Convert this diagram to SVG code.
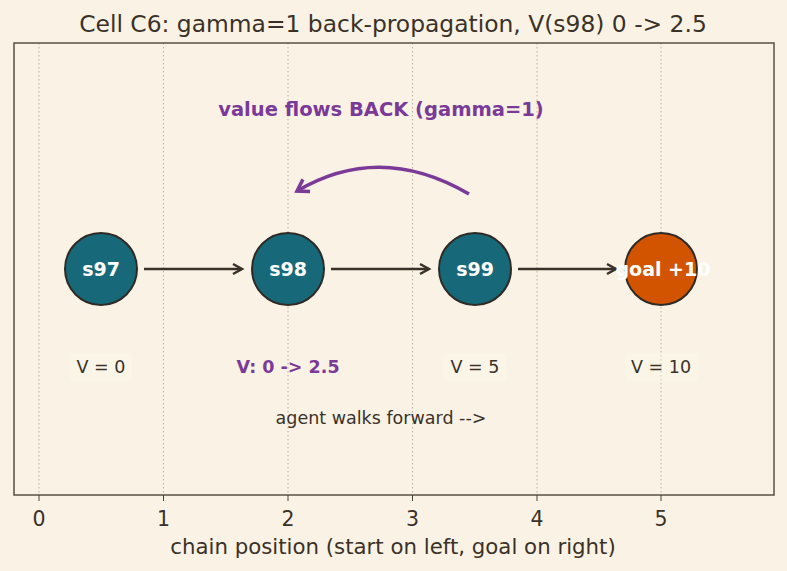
<svg xmlns="http://www.w3.org/2000/svg" width="787" height="571" viewBox="0 0 787 571">
<defs>
<style>
text{font-family:"DejaVu Sans","Liberation Sans",sans-serif;fill:#3a3128}
.grid{stroke:#b8b0a0;stroke-width:1;stroke-dasharray:1.5,2.5}
.tick{stroke:#4a4033;stroke-width:1}
.tl{font-size:20.5px;text-anchor:middle}
.xl{font-size:21.3px;text-anchor:middle}
.node{stroke:#2e2a26;stroke-width:2}
.nl{font-size:19px;font-weight:bold;fill:#ffffff;text-anchor:middle}
.vl{font-size:17.5px;text-anchor:middle}
.bx{fill:#fcf8ef;opacity:0.35}
.edge{stroke:#3a3128;stroke-width:2.5;fill:none;marker-end:url(#ah)}
</style>
<marker id="ah" markerWidth="16" markerHeight="16" refX="12" refY="8" orient="auto" markerUnits="userSpaceOnUse">
<path d="M3,3 L12,8 L3,13" fill="none" stroke="#3a3128" stroke-width="2.5"/>
</marker>
<marker id="ahp" markerWidth="20" markerHeight="20" refX="15" refY="10" orient="auto" markerUnits="userSpaceOnUse">
<path d="M4,3 L15,10 L4,17" fill="none" stroke="#7b3a98" stroke-width="3.5" stroke-linejoin="miter"/>
</marker>
</defs>
<rect x="0" y="0" width="787" height="571" fill="#faf3e5"/>
<text x="393" y="32" font-size="23.4" text-anchor="middle">Cell C6: gamma=1 back-propagation, V(s98) 0 -&gt; 2.5</text>
<g id="axes">
<line class="grid" x1="39" y1="43" x2="39" y2="495"/>
<line class="grid" x1="163.5" y1="43" x2="163.5" y2="495"/>
<line class="grid" x1="288" y1="43" x2="288" y2="495"/>
<line class="grid" x1="412.5" y1="43" x2="412.5" y2="495"/>
<line class="grid" x1="537" y1="43" x2="537" y2="495"/>
<line class="grid" x1="661" y1="43" x2="661" y2="495"/>
<rect x="14" y="43" width="760" height="452" fill="none" stroke="#5a4f42" stroke-width="1.5"/>
<line class="tick" x1="39" y1="495" x2="39" y2="501"/>
<line class="tick" x1="163.5" y1="495" x2="163.5" y2="501"/>
<line class="tick" x1="288" y1="495" x2="288" y2="501"/>
<line class="tick" x1="412.5" y1="495" x2="412.5" y2="501"/>
<line class="tick" x1="537" y1="495" x2="537" y2="501"/>
<line class="tick" x1="661" y1="495" x2="661" y2="501"/>
<text class="tl" x="39" y="526">0</text>
<text class="tl" x="163.5" y="526">1</text>
<text class="tl" x="288" y="526">2</text>
<text class="tl" x="412.5" y="526">3</text>
<text class="tl" x="537" y="526">4</text>
<text class="tl" x="661" y="526">5</text>
<text class="xl" x="393" y="554">chain position (start on left, goal on right)</text>
</g>
<g id="connectors">
<line class="edge" x1="144" y1="269" x2="242" y2="269"/>
<line class="edge" x1="331" y1="269" x2="429" y2="269"/>
<line class="edge" x1="518" y1="269" x2="616" y2="269"/>
<path d="M469,194 Q380,142 297,191" fill="none" stroke="#7b3a98" stroke-width="3.5" marker-end="url(#ahp)"/>
</g>
<g id="s97">
<circle class="node" cx="101" cy="269" r="36" fill="#17697a"/>
<text class="nl" x="101" y="276">s97</text>
</g>
<g id="s98">
<circle class="node" cx="288" cy="269" r="36" fill="#17697a"/>
<text class="nl" x="288" y="276">s98</text>
</g>
<g id="s99">
<circle class="node" cx="475" cy="269" r="36" fill="#17697a"/>
<text class="nl" x="475" y="276">s99</text>
</g>
<g id="goal">
<circle class="node" cx="661" cy="269" r="36" fill="#d35400"/>
<text class="nl" x="663" y="276">goal +10</text>
</g>
<g id="labels">
<text x="381" y="116" font-size="19.5" font-weight="bold" text-anchor="middle" style="fill:#7b3a98">value flows BACK (gamma=1)</text>
<rect class="bx" x="70" y="353" width="62" height="28" rx="4"/>
<text class="vl" x="101" y="373">V = 0</text>
<text class="vl" x="288" y="373" font-weight="bold" style="fill:#7b3a98">V: 0 -&gt; 2.5</text>
<rect class="bx" x="443" y="353" width="64" height="28" rx="4"/>
<text class="vl" x="475" y="373">V = 5</text>
<rect class="bx" x="626" y="353" width="72" height="28" rx="4"/>
<text class="vl" x="661" y="373">V = 10</text>
<text class="vl" x="381" y="424">agent walks forward --&gt;</text>
</g>
</svg>
